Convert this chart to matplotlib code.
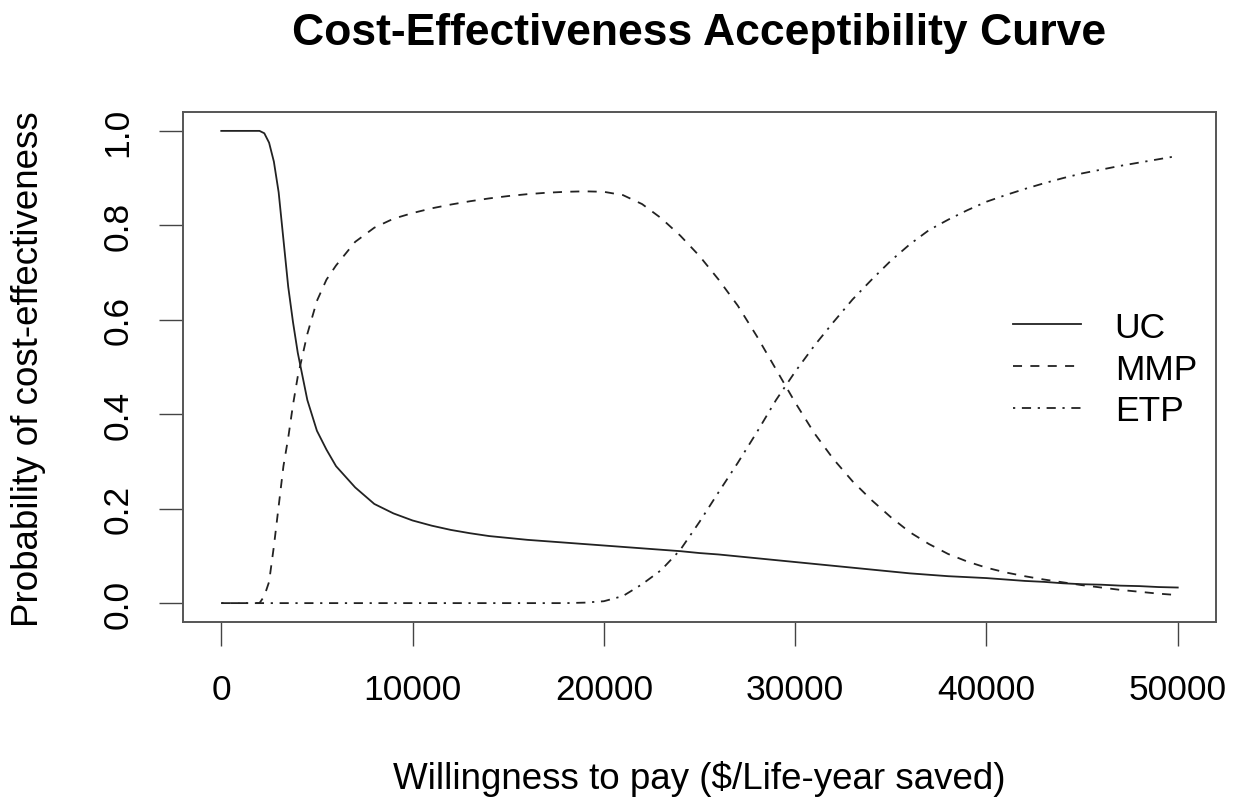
import numpy as np
import matplotlib
matplotlib.use("Agg")
import matplotlib.pyplot as plt

# willingness to pay grid ($/life-year saved)
WTP = [0, 1000, 2000, 2250, 2500, 2750, 3000, 3250, 3500, 3750,
       4000, 4500, 5000, 5500,
       6000, 7000, 8000, 9000, 10000, 11000, 12000, 13000, 14000, 15000,
       16000, 17000, 18000, 19000, 20000, 21000, 22000, 23000, 24000, 25000,
       26000, 27000, 28000, 29000, 30000, 31000, 32000, 33000, 34000, 35000,
       36000, 37000, 38000, 39000, 40000, 41000, 42000, 43000, 44000, 45000,
       46000, 47000, 48000, 49000, 50000]

UC = [1.0, 1.0, 1.0, 0.995, 0.975, 0.935, 0.87, 0.77, 0.67, 0.595,
      0.53, 0.43, 0.365, 0.325,
      0.29, 0.245, 0.21, 0.19, 0.175, 0.164, 0.155, 0.148, 0.142, 0.138,
      0.134, 0.131, 0.128, 0.125, 0.122, 0.119, 0.116, 0.113, 0.110, 0.106,
      0.103, 0.099, 0.095, 0.091, 0.087, 0.083, 0.079, 0.075, 0.071, 0.067,
      0.063, 0.060, 0.057, 0.055, 0.053, 0.050, 0.047, 0.045, 0.042, 0.040,
      0.039, 0.037, 0.036, 0.034, 0.033]

MMP = [0.0, 0.0, 0.0, 0.015, 0.045, 0.12, 0.205, 0.29, 0.35, 0.42,
       0.48, 0.57, 0.64, 0.685,
       0.715, 0.765, 0.795, 0.814, 0.826, 0.836, 0.844, 0.851, 0.857, 0.862,
       0.866, 0.869, 0.871, 0.872, 0.871, 0.864, 0.845, 0.815, 0.778, 0.735,
       0.685, 0.630, 0.565, 0.495, 0.425, 0.360, 0.305, 0.258, 0.218, 0.182,
       0.150, 0.125, 0.104, 0.088, 0.075, 0.065, 0.057, 0.050, 0.044, 0.038,
       0.033, 0.028, 0.024, 0.020, 0.017]

ETP = [0.0, 0.0, 0.0, 0.0, 0.0, 0.0, 0.0, 0.0, 0.0, 0.0,
       0.0, 0.0, 0.0, 0.0,
       0.0, 0.0, 0.0, 0.0, 0.0, 0.0, 0.0, 0.0, 0.0, 0.0,
       0.0, 0.0, 0.0, 0.001, 0.004, 0.015, 0.040, 0.070, 0.113, 0.172,
       0.235, 0.297, 0.362, 0.430, 0.490, 0.545, 0.595, 0.643, 0.685, 0.725,
       0.760, 0.790, 0.812, 0.832, 0.850, 0.864, 0.877, 0.889, 0.900, 0.910,
       0.918, 0.926, 0.933, 0.940, 0.947]

SERIES = ["UC", "MMP", "ETP"]
X_TICKS = [0, 10000, 20000, 30000, 40000, 50000]
Y_TICKS = [0.0, 0.2, 0.4, 0.6, 0.8, 1.0]

plt.rcParams['font.family'] = ['Liberation Sans', 'DejaVu Sans']
plt.rcParams['lines.scale_dashes'] = False

W, H = 1243, 804
fig = plt.figure(figsize=(W / 100, H / 100), dpi=100)
ax = fig.add_axes([183 / W, 1 - 623 / H, (1216 - 183) / W, (623 - 113) / H])

styles = ['-', (0, (6.5, 6.0)), (0, (1.6, 4.8, 6.6, 4.8))]
for name, vals, ls in zip(SERIES, [UC, MMP, ETP], styles):
    ax.plot(WTP, vals, color='#222222', lw=1.3, linestyle=ls, label=name)

ax.set_xlim(-2000, 52000)
ax.set_ylim(-0.04, 1.04)
ax.set_xticks(X_TICKS)
ax.set_xticklabels([str(t) for t in X_TICKS])
ax.set_yticks(Y_TICKS)
ax.set_yticklabels([f"{t:.1f}" for t in Y_TICKS], rotation=90, va='center')

for s in ax.spines.values():
    s.set_color('#555555')
    s.set_linewidth(1.4)
ax.tick_params(axis='x', length=17, width=1.0, color='#444444', labelsize=25.5, pad=20)
ax.tick_params(axis='y', length=17, width=1.0, color='#444444', labelsize=25.5, pad=18)

fig.text(0.5 * (183 + 1216) / W, 1 - 779 / H, "Willingness to pay ($/Life-year saved)",
         ha='center', va='center', fontsize=26.5)
fig.text(29 / W, 1 - 369 / H, "Probability of cost-effectiveness",
         ha='center', va='center', rotation=90, fontsize=26.5)
fig.text(0.5 * (183 + 1216) / W, 1 - 33 / H, "Cost-Effectiveness Acceptibility Curve",
         ha='center', va='center', fontsize=32, fontweight='bold')

ax.legend(loc='center left', bbox_to_anchor=(1013 / W, 1 - 370 / H),
          bbox_transform=fig.transFigure, frameon=False, fontsize=25.5,
          handlelength=1.92, handletextpad=0.95, labelspacing=0.25,
          borderpad=0, borderaxespad=0)

fig.savefig("out.png", dpi=100)
